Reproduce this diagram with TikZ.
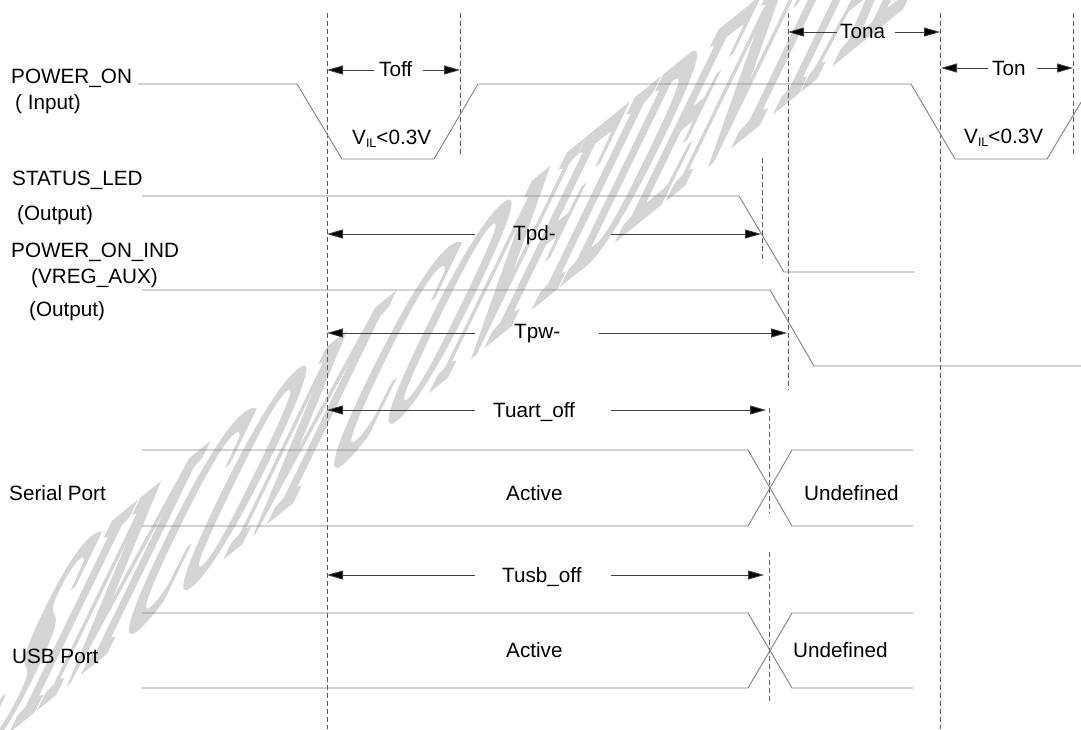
\documentclass[tikz,border=0pt]{standalone}
\usepackage{fontspec}
\setmainfont{Liberation Sans}
\newfontfamily\wmfont{Liberation Serif}[UprightFont=* Bold, FakeBold=2]
\usetikzlibrary{arrows.meta}
\begin{document}
\begin{tikzpicture}[x=1pt,y=-1pt,
  sig/.style={draw=black!50, line width=0.9pt},
  guide/.style={draw=black!65, line width=0.8pt, dash pattern=on 5pt off 3pt},
  dim/.style={draw=black!75, line width=0.8pt, -{Triangle[length=16pt,width=9pt,fill=black]}},
  lbl/.style={inner sep=0pt, anchor=base west, font=\fontsize{20.7}{24}\selectfont},
]
\useasboundingbox (0,0) rectangle (1081,729);
\clip (0,0) rectangle (1081,729);
\fill[white] (0,0) rectangle (1081,729);
% watermark
\begin{scope}[cm={0.762,0.617,1.53,3.15,(-34,766)}]
  \node[transform shape, anchor=base west, inner sep=0pt, text=black!17,
        font=\wmfont\fontsize{100}{100}\selectfont] (wm) at (0,0) {SIMCOM CONFIDENTIAL};
\end{scope}

% guide lines
\coordinate (A1) at (327,13);  \coordinate (A2) at (327,729);
\coordinate (B1) at (460,13);  \coordinate (B2) at (460,155);
\coordinate (C1) at (762,158); \coordinate (C2) at (762,262);
\coordinate (D1) at (788,13);  \coordinate (D2) at (788,390);
\coordinate (E1) at (940,13);  \coordinate (E2) at (940,729);
\coordinate (F1) at (1073,13); \coordinate (F2) at (1073,154);
\coordinate (G1) at (769,408); \coordinate (G2) at (769,513);
\coordinate (H1) at (769,552); \coordinate (H2) at (769,703);
\foreach \p in {A,B,C,D,E,F,G,H} \draw[guide] (\p1) -- (\p2);

% signals
\draw[sig] (138,84) -- (297,84) -- (342,159) -- (434,159) -- (478,84) -- (911,84)
  -- (955,159) -- (1047,159) -- (1092,84);
\draw[sig] (142,196) -- (739,196) -- (784,272) -- (914,272);
\draw[sig] (142,290) -- (770,290) -- (814,366) -- (1085,366);
\draw[sig] (142,450) -- (748,450) -- (792,526) -- (913,526);
\draw[sig] (142,526) -- (748,526) -- (792,450) -- (913,450);
\draw[sig] (142,613) -- (748,613) -- (792,688) -- (913,688);
\draw[sig] (142,688) -- (748,688) -- (792,613) -- (913,613);

% signal names
\node[lbl] (n1) at (11,83) {POWER\_ON};
\node[lbl] (n1b) at (15,109) {( Input)};
\node[lbl] (n2) at (12,185) {STATUS\_LED};
\node[lbl] (n2b) at (17,220) {(Output)};
\node[lbl] (n3) at (11,257) {POWER\_ON\_IND};
\node[lbl] (n3b) at (31,283) {(VREG\_AUX)};
\node[lbl] (n3c) at (29,316) {(Output)};
\node[lbl] (n4) at (9,500) {Serial Port};
\node[lbl] (n5) at (12,663) {USB Port};

% in-diagram labels
\node[lbl] (vil1) at (352,144) {V\raisebox{-3pt}{\fontsize{12.5}{12}\selectfont IL}<0.3V};
\node[lbl] (vil2) at (964,143) {V\raisebox{-3pt}{\fontsize{12.5}{12}\selectfont IL}<0.3V};
\node[lbl] (act1) at (506,500) {Active};
\node[lbl] (act2) at (506,657) {Active};
\node[lbl] (und1) at (804,500) {Undefined};
\node[lbl] (und2) at (793,657) {Undefined};

% timing labels and arrows
\node[lbl] (toff) at (379,76) {Toff};
\draw[dim] (374,70) -- (327,70);
\draw[dim] (423,70) -- (460,70);

\node[lbl] (tona) at (840,38) {Tona};
\draw[dim] (837,32) -- (788,32);
\draw[dim] (895,32) -- (940,32);

\node[lbl] (ton) at (992,75) {Ton};
\draw[dim] (988,68) -- (941,68);
\draw[dim] (1037,68) -- (1073,68);

\node[lbl] (tpd) at (513,240) {Tpd-};
\draw[dim] (475,234) -- (327,234);
\draw[dim] (611,234) -- (761,234);

\node[lbl] (tpw) at (514,338) {Tpw-};
\draw[dim] (475,333) -- (327,333);
\draw[dim] (599,333) -- (787,333);

\node[lbl] (tuart) at (493,417) {Tuart\_off};
\draw[dim] (475,410) -- (327,410);
\draw[dim] (611,410) -- (766,410);

\node[lbl] (tusb) at (502,582) {Tusb\_off};
\draw[dim] (475,575) -- (327,575);
\draw[dim] (611,575) -- (764,575);
\end{tikzpicture}
\end{document}
